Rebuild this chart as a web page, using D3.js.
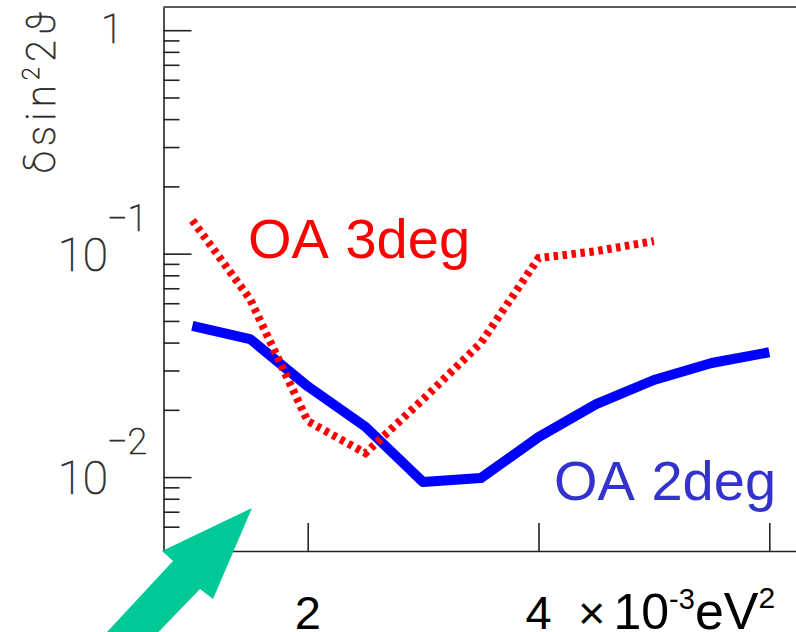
<!DOCTYPE html>
<html>
<head>
<meta charset="utf-8">
<script src="https://cdn.jsdelivr.net/npm/d3@7"></script>
<style>
  html, body { margin: 0; padding: 0; background: #ffffff; }
  svg { display: block; }
</style>
</head>
<body>
<svg id="chart" width="796" height="632"></svg>
<script>
// Δm² grid (×10⁻³ eV²)
const dm2 = [1.0, 1.5, 2.0, 2.5, 3.0, 3.5, 4.0, 4.5, 5.0, 5.5, 6.0];
// δ(sin²2θ) sensitivity, off-axis 2°
const oa2deg = [0.0475, 0.0415, 0.0255, 0.0168, 0.0095, 0.0099, 0.0151, 0.0212, 0.0272, 0.0324, 0.0362];
// δ(sin²2θ) sensitivity, off-axis 3°
const dm2_3 = [1.0, 1.5, 2.0, 2.5, 3.0, 3.5, 4.0, 4.5, 5.0];
const oa3deg = [0.141, 0.0626, 0.0178, 0.0128, 0.0223, 0.0398, 0.0955, 0.1026, 0.1138];

// axis ticks
const xTicks = [2, 4, 6];
const xTickLabels = ["2", "4", ""];
const yMajor = [1, 0.1, 0.01];
const yMinor = [0.9, 0.8, 0.7, 0.6, 0.5, 0.4, 0.3, 0.2,
                0.09, 0.08, 0.07, 0.06, 0.05, 0.04, 0.03, 0.02,
                0.009, 0.008, 0.007, 0.006];

const svg = d3.select("#chart");
const W = 796, H = 632;
const plotL = 163.5, plotT = 7, plotB = 551, plotR = 913.5;

svg.append("rect").attr("width", W).attr("height", H).attr("fill", "#ffffff");

const x = d3.scaleLinear().domain([0.75, 7.25]).range([plotL, plotR]);
const y = d3.scaleLog().domain([1.27, 0.00467]).range([plotT, plotB]);

const axisColor = "#222";
const thinFont = "Roboto, 'DejaVu Sans', sans-serif";
const sansFont = "'Liberation Sans', Arial, sans-serif";

// frame top edge
svg.append("line")
  .attr("x1", plotL).attr("x2", plotR).attr("y1", plotT).attr("y2", plotT)
  .attr("stroke", axisColor).attr("stroke-width", 1.6);

// left axis: long decade ticks and short sub-decade ticks, drawn inwards
const gy = svg.append("g").attr("transform", `translate(${plotL},0)`);
gy.call(d3.axisLeft(y).tickValues(yMajor).tickSize(-28).tickSizeOuter(0).tickFormat(""));
gy.append("g")
  .call(d3.axisLeft(y).tickValues(yMinor).tickSize(-16).tickSizeOuter(0).tickFormat(""))
  .select(".domain").remove();
gy.selectAll("path, line").attr("stroke", axisColor).attr("stroke-width", 1.6);
gy.selectAll("text").remove();

// bottom axis
const gx = svg.append("g").attr("transform", `translate(0,${plotB})`);
gx.call(d3.axisBottom(x).tickValues(xTicks).tickSize(-28).tickSizeOuter(0).tickFormat(""));
gx.selectAll("path, line").attr("stroke", axisColor).attr("stroke-width", 1.6);
gx.selectAll("text").remove();

// y tick labels: "1", "10^-1", "10^-2" in a thin outlined face
const yLab = svg.append("g")
  .attr("font-family", thinFont).attr("font-weight", 100)
  .attr("fill", "#2a2a2a").attr("stroke", "#2a2a2a").attr("stroke-width", 0.7);
yLab.append("text")
  .attr("x", 112).attr("y", y(1) + 13)
  .attr("text-anchor", "middle").attr("font-size", 40)
  .text("1");
[0.1, 0.01].forEach(v => {
  const e = Math.round(Math.log10(v));
  yLab.append("text")
    .attr("x", 108).attr("y", y(v) + 17)
    .attr("text-anchor", "end").attr("font-size", 46)
    .text("10");
  yLab.append("text")
    .attr("x", 107).attr("y", y(v) - 23)
    .attr("font-size", 36)
    .text("\u2212" + Math.abs(e));
});

// y axis title
svg.append("text")
  .attr("transform", "translate(55,92.5) rotate(-90)")
  .attr("text-anchor", "middle")
  .attr("font-family", thinFont).attr("font-weight", 100)
  .attr("font-size", 40)
  .attr("fill", "#2a2a2a").attr("stroke", "#2a2a2a").attr("stroke-width", 0.7)
  .attr("textLength", 161).attr("lengthAdjust", "spacing")
  .call(t => {
    t.append("tspan").text("\u03b4sin");
    t.append("tspan").attr("font-size", 24).attr("dy", -16).text("2");
    t.append("tspan").attr("dy", 16).text("2\u03d1");
  });

// x tick labels and unit
const xLab = svg.append("g").attr("font-family", sansFont)
  .attr("font-size", 47).attr("fill", "#000");
xLab.selectAll("text.tick").data(xTicks.filter((d, i) => xTickLabels[i] !== ""))
  .join("text")
  .attr("class", "tick")
  .attr("x", d => x(d)).attr("y", 629)
  .attr("text-anchor", "middle")
  .text(d => xTickLabels[xTicks.indexOf(d)]);
xLab.append("text")
  .attr("x", 578).attr("y", 629)
  .call(t => {
    t.append("tspan").text("\u00d7");
    t.append("tspan").attr("dx", 8).attr("font-size", 50).text("10");
    t.append("tspan").attr("font-size", 29).attr("dy", -20).text("-3");
    t.append("tspan").attr("font-size", 52).attr("dy", 20).text("eV");
    t.append("tspan").attr("font-size", 30).attr("dy", -21).text("2");
  });

// sensitivity curves
const line = d3.line().x(d => x(d[0])).y(d => y(d[1]));

svg.append("path")
  .datum(dm2.map((d, i) => [d, oa2deg[i]]))
  .attr("d", line)
  .attr("fill", "none").attr("stroke", "#0000ff")
  .attr("stroke-width", 10).attr("stroke-linejoin", "round");

svg.append("path")
  .datum(dm2_3.map((d, i) => [d, oa3deg[i]]))
  .attr("d", line)
  .attr("fill", "none").attr("stroke", "#ff0000")
  .attr("stroke-width", 8).attr("stroke-dasharray", "4.5,4.5");

// curve labels
const curveLabel = (xPos, yPos, color, a, b) => svg.append("text")
  .attr("x", xPos).attr("y", yPos)
  .attr("font-family", sansFont)
  .attr("font-size", 56).attr("fill", color)
  .call(t => {
    t.append("tspan").text(a + "\u00a0");
    t.append("tspan").attr("dx", 1).text(b);
  });
curveLabel(248, 258, "#ff0000", "OA", "3deg");
curveLabel(554, 500, "#3333cc", "OA", "2deg");

// pointer arrow
const arrow = [[252, 508], [162, 551], [173, 561], [95, 645], [146, 645], [200, 589], [213, 599]];
svg.append("path")
  .attr("d", "M" + arrow.map(p => p.join(",")).join("L") + "Z")
  .attr("fill", "#00c997");
</script>
</body>
</html>
